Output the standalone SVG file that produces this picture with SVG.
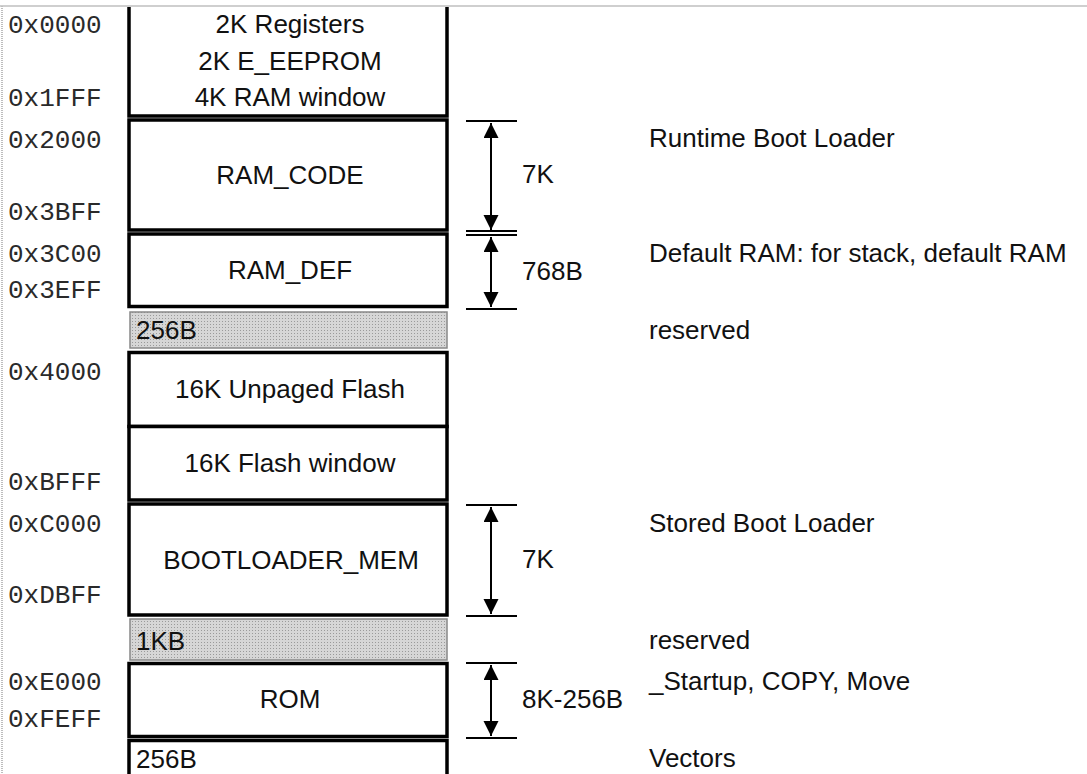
<svg xmlns="http://www.w3.org/2000/svg" width="1087" height="774" viewBox="0 0 1087 774">
<style>
.addr{font-family:"Liberation Mono","Courier New",monospace;font-size:26px;fill:#2a2a2a}
.lbl{font-family:"Liberation Sans",Arial,sans-serif;font-size:26px;fill:#111}
.mid{text-anchor:middle}
.box{fill:#fff;stroke:#000;stroke-width:3.5}
.res{fill:url(#dots);stroke:#888;stroke-width:1.5}
.tick{stroke:#000;stroke-width:2}
.dim{stroke:#000;stroke-width:2;fill:none;marker-start:url(#ah);marker-end:url(#ah)}
</style>
<defs>
<pattern id="dots" width="3" height="3" patternUnits="userSpaceOnUse">
<rect width="3" height="3" fill="#d6d6d6"/>
<rect width="1" height="1" fill="#9a9a9a"/>
</pattern>
<marker id="ah" markerUnits="userSpaceOnUse" markerWidth="16" markerHeight="16" refX="15" refY="7.5" orient="auto-start-reverse">
<path d="M0,0 L15,7.5 L0,15 Z" fill="#000"/>
</marker>
</defs>
<rect width="1087" height="774" fill="#fff"/>
<line x1="0" y1="6" x2="1087" y2="6" stroke="#cfcfcf" stroke-width="2"/>
<line x1="2" y1="6" x2="2" y2="774" stroke="#bdbdbd" stroke-width="2" stroke-dasharray="1,1"/>

<g id="addresses">
<text class="addr" x="8" y="33">0x0000</text>
<text class="addr" x="8" y="106">0x1FFF</text>
<text class="addr" x="8" y="148">0x2000</text>
<text class="addr" x="8" y="220">0x3BFF</text>
<text class="addr" x="8" y="262">0x3C00</text>
<text class="addr" x="8" y="298">0x3EFF</text>
<text class="addr" x="8" y="380">0x4000</text>
<text class="addr" x="8" y="490">0xBFFF</text>
<text class="addr" x="8" y="532">0xC000</text>
<text class="addr" x="8" y="603">0xDBFF</text>
<text class="addr" x="8" y="690">0xE000</text>
<text class="addr" x="8" y="727">0xFEFF</text>
</g>

<g id="registers">
<path d="M129,7 V116 H447 V7" fill="#fff" stroke="#000" stroke-width="3.5"/>
<text class="lbl mid" x="290" y="33">2K Registers</text>
<text class="lbl mid" x="290" y="70">2K E_EEPROM</text>
<text class="lbl mid" x="290" y="106">4K RAM window</text>
</g>
<g id="ram_code">
<rect class="box" x="129" y="120" width="318" height="110"/>
<text class="lbl mid" x="290" y="184">RAM_CODE</text>
</g>
<g id="ram_def">
<rect class="box" x="129" y="234" width="318" height="72.5"/>
<text class="lbl mid" x="290" y="279">RAM_DEF</text>
</g>
<g id="reserved1">
<rect class="res" x="130" y="312" width="317" height="36"/>
<text class="lbl" x="136" y="339">256B</text>
</g>
<g id="unpaged">
<rect class="box" x="129" y="352.5" width="318" height="74"/>
<text class="lbl mid" x="290" y="398">16K Unpaged Flash</text>
</g>
<g id="flash_window">
<rect class="box" x="129" y="426.5" width="318" height="73.5"/>
<text class="lbl mid" x="290" y="472">16K Flash window</text>
</g>
<g id="bootloader">
<rect class="box" x="129" y="504" width="318" height="111"/>
<text class="lbl mid" x="291" y="569">BOOTLOADER_MEM</text>
</g>
<g id="reserved2">
<rect class="res" x="130" y="619" width="317" height="41"/>
<text class="lbl" x="136" y="650">1KB</text>
</g>
<g id="rom">
<rect class="box" x="129" y="663.5" width="318" height="73"/>
<text class="lbl mid" x="290" y="708">ROM</text>
</g>
<g id="vectors">
<rect class="box" x="129" y="740.5" width="318" height="60"/>
<text class="lbl" x="136" y="768">256B</text>
</g>

<g id="connectors">
<line class="tick" x1="466" y1="121" x2="517" y2="121"/>
<line class="tick" x1="466" y1="231" x2="517" y2="231"/>
<line class="tick" x1="466" y1="235" x2="517" y2="235"/>
<line class="tick" x1="466" y1="309" x2="517" y2="309"/>
<line class="tick" x1="466" y1="505" x2="517" y2="505"/>
<line class="tick" x1="466" y1="616" x2="517" y2="616"/>
<line class="tick" x1="466" y1="663" x2="517" y2="663"/>
<line class="tick" x1="466" y1="738" x2="517" y2="738"/>
<line class="dim" x1="491" y1="123" x2="491" y2="230"/>
<line class="dim" x1="491" y1="237" x2="491" y2="307"/>
<line class="dim" x1="491" y1="507" x2="491" y2="614"/>
<line class="dim" x1="491" y1="665" x2="491" y2="736"/>
</g>

<g id="dimension_labels">
<text class="lbl" x="522" y="183">7K</text>
<text class="lbl" x="522" y="280">768B</text>
<text class="lbl" x="522" y="568">7K</text>
<text class="lbl" x="522" y="708">8K-256B</text>
</g>

<g id="descriptions">
<text class="lbl" x="649" y="147">Runtime Boot Loader</text>
<text class="lbl" x="649" y="262">Default RAM: for stack, default RAM</text>
<text class="lbl" x="649" y="339">reserved</text>
<text class="lbl" x="649" y="532">Stored Boot Loader</text>
<text class="lbl" x="649" y="649">reserved</text>
<text class="lbl" x="649" y="690">_Startup, COPY, Move</text>
<text class="lbl" x="649" y="767">Vectors</text>
</g>
</svg>
